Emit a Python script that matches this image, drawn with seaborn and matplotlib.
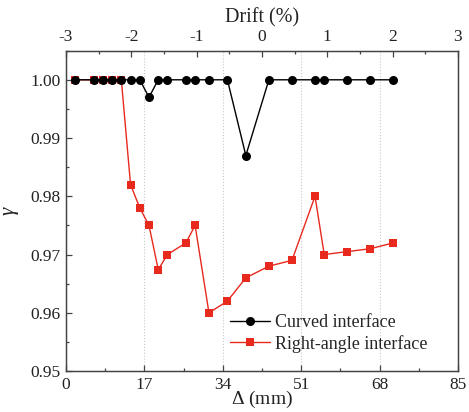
import matplotlib
matplotlib.use("Agg")
import matplotlib.pyplot as plt
from matplotlib.ticker import MultipleLocator, FormatStrFormatter
import seaborn as sns
import pandas as pd

# Horizontal displacement (mm) of each loading step
delta_mm = [2, 6, 8, 10, 12, 14, 16, 18, 20, 22, 26, 28, 31, 35, 39,
            44, 49, 54, 56, 61, 66, 71]

# Ratio gamma for the two joint details
gamma_curved = [1.000, 1.000, 1.000, 1.000, 1.000, 1.000, 1.000, 0.997,
                1.000, 1.000, 1.000, 1.000, 1.000, 1.000, 0.987, 1.000,
                1.000, 1.000, 1.000, 1.000, 1.000, 1.000]
gamma_right = [1.000, 1.000, 1.000, 1.000, 1.000, 0.982, 0.978, 0.975,
               0.9674, 0.970, 0.972, 0.975, 0.960, 0.962, 0.966, 0.968,
               0.969, 0.980, 0.970, 0.9705, 0.971, 0.972]

series_names = ["Curved interface", "Right-angle interface"]
x_ticks = [0, 17, 34, 51, 68, 85]
drift_ticks = [-3, -2, -1, 0, 1, 2, 3]

sns.set_style("ticks")
plt.rcParams["font.family"] = ["Liberation Serif", "DejaVu Serif"]
plt.rcParams["mathtext.fontset"] = "custom"
plt.rcParams["mathtext.rm"] = "Liberation Serif"
plt.rcParams["mathtext.it"] = "Liberation Serif:italic"
plt.rcParams["axes.unicode_minus"] = False

df = pd.DataFrame({
    "delta": delta_mm * 2,
    "gamma": gamma_right + gamma_curved,
    "series": [series_names[1]] * len(delta_mm) + [series_names[0]] * len(delta_mm),
})

fig = plt.figure(figsize=(4.69, 4.12), dpi=100)
ax = fig.add_axes([0.1407, 0.0995, 0.8358, 0.7775])

red = "#e8291d"
sns.lineplot(data=df[df.series == series_names[1]], x="delta", y="gamma",
             color=red, marker="s", markersize=6, markeredgewidth=0,
             linewidth=1.0, label=series_names[1], ax=ax, zorder=2)
sns.lineplot(data=df[df.series == series_names[0]], x="delta", y="gamma",
             color="black", marker="o", markersize=6.5, markeredgewidth=0,
             linewidth=1.0, label=series_names[0], ax=ax, zorder=3)

spine_col = "#444444"
txt_col = "#222222"
ax.set_xlim(0, 85)
ax.set_ylim(0.95, 1.005)
ax.set_xticks(x_ticks)
ax.xaxis.set_minor_locator(MultipleLocator(8.5))
ax.set_yticks([0.95, 0.96, 0.97, 0.98, 0.99, 1.00])
ax.yaxis.set_major_formatter(FormatStrFormatter("%.2f"))
ax.yaxis.set_minor_locator(MultipleLocator(0.005))
ax.tick_params(which="both", direction="in", colors=spine_col,
               labelcolor=txt_col, labelsize=12.5, width=0.9)
ax.tick_params(which="major", length=4, pad=4)
ax.tick_params(which="minor", length=2.5)
ax.grid(axis="x", which="major", linestyle=":", color="#c8c8c8", linewidth=0.8)
for s in ax.spines.values():
    s.set_visible(True)
    s.set_color(spine_col)
    s.set_linewidth(1.0)

ax.set_xlabel(r"$\mathit{\Delta}$ (mm)", fontsize=14, labelpad=-3, color=txt_col)
ax.set_ylabel("γ", fontsize=15, fontstyle="italic", labelpad=8, color=txt_col)

top = ax.twiny()
top.set_xlim(-3, 3)
top.set_xticks(drift_ticks)
top.xaxis.set_minor_locator(MultipleLocator(0.5))
top.tick_params(which="both", direction="in", colors=spine_col,
                labelcolor=txt_col, labelsize=12.5, width=0.9)
top.tick_params(which="major", length=4, pad=4)
top.tick_params(which="minor", length=2.5)
top.set_xlabel("Drift (%)", fontsize=14.5, labelpad=5, color=txt_col)
for s in top.spines.values():
    s.set_color(spine_col)

handles, labels = ax.get_legend_handles_labels()
order = [labels.index(n) for n in series_names]
ax.legend([handles[i] for i in order], [labels[i] for i in order],
          loc="lower left", bbox_to_anchor=(0.4, 0.035), frameon=False,
          fontsize=13, handlelength=2.2, handletextpad=0.3,
          labelspacing=0.2, borderaxespad=0)

fig.savefig("out.png", dpi=100)
